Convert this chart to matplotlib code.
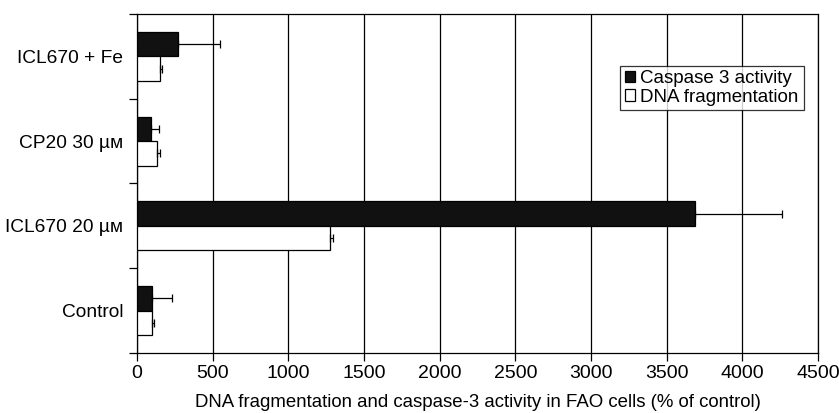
import matplotlib
matplotlib.use("Agg")
import matplotlib.pyplot as plt
import numpy as np

plt.rcParams['font.family'] = ['Liberation Sans', 'DejaVu Sans']

categories = ["Control", "ICL670 20 µᴍ", "CP20 30 µᴍ", "ICL670 + Fe"]
caspase = [100, 3690, 92, 268]
caspase_err = [128, 572, 53, 282]
dna = [100, 1275, 130, 154]
dna_err = [12, 22, 23, 13]
xticks = [0, 500, 1000, 1500, 2000, 2500, 3000, 3500, 4000, 4500]

fig = plt.figure(figsize=(8.39, 4.13), dpi=100)
ax = fig.add_axes([0.1633, 0.1453, 0.8117, 0.8208])

y = np.arange(len(categories))
h = 0.29
err_kw = dict(elinewidth=0.9, capthick=0.9, ecolor='black', capsize=3)
ax.barh(y + h / 2, caspase, height=h, color='#111111', edgecolor='black',
        linewidth=0.9, label='Caspase 3 activity', zorder=3,
        xerr=[np.zeros(len(caspase)), caspase_err], error_kw=err_kw)
ax.barh(y - h / 2, dna, height=h, color='white', edgecolor='black',
        linewidth=0.9, label='DNA fragmentation', zorder=3,
        xerr=[np.zeros(len(dna)), dna_err], error_kw=err_kw)

ax.set_xlim(0, 4500)
ax.set_ylim(-0.5, len(categories) - 0.5)
ax.set_xticks(xticks)
ax.set_xticklabels([str(t) for t in xticks], fontsize=14)
ax.xaxis.grid(True, color='black', linewidth=0.9, zorder=0)
ax.set_axisbelow(True)

# category boundaries get tick marks, category names sit between them
ax.set_yticks(np.arange(-0.5, len(categories), 1.0))
ax.set_yticklabels([])
ax.set_yticks(y, minor=True)
ax.set_yticklabels(categories, minor=True, fontsize=13.8)
ax.tick_params(axis='y', which='minor', length=0, pad=10)
ax.tick_params(axis='y', which='major', length=6, width=0.9, direction='out')
ax.tick_params(axis='x', length=6, width=0.9, direction='out', pad=3)

for s in ax.spines.values():
    s.set_linewidth(0.9)

ax.set_xlabel("DNA fragmentation and caspase-3 activity in FAO cells (% of control)",
              fontsize=13.4, labelpad=8)

leg = ax.legend(loc='upper left', bbox_to_anchor=(0.709, 0.848), fontsize=13.5,
                frameon=True, fancybox=False, edgecolor='black',
                handlelength=0.55, handleheight=0.55, handletextpad=0.3,
                borderpad=0.25, labelspacing=0.08, borderaxespad=0)
leg.get_frame().set_linewidth(0.9)

fig.savefig("out.png", dpi=100)
